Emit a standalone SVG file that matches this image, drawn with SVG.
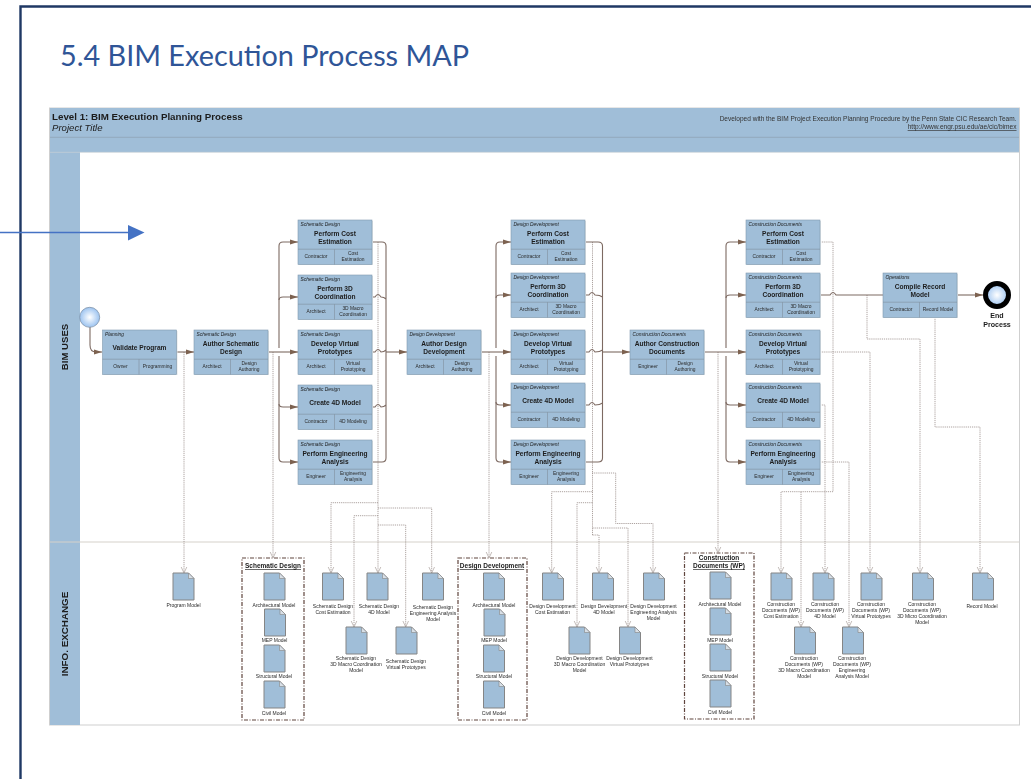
<svg xmlns="http://www.w3.org/2000/svg" width="1031" height="779" viewBox="0 0 1031 779">
<style>
text{font-family:"Liberation Sans",Arial,sans-serif;fill:#1c1c1c}
.ph{font-size:4.9px;font-style:italic}
.t{font-size:6.6px;font-weight:bold;text-anchor:middle}
.c{font-size:4.9px;text-anchor:middle;fill:#2a2a2a}
.d{font-size:5px;text-anchor:middle;fill:#2a2a2a}
.ct{font-size:6.5px;font-weight:bold;text-anchor:middle;text-decoration:underline}
.flow{fill:none;stroke:#7d6a62;stroke-width:1.1}
.dot{fill:none;stroke:#988c88;stroke-width:.8;stroke-dasharray:1.2 .9}
.cont{fill:#fff;stroke:#5f443d;stroke-width:1.2;stroke-dasharray:4 1.5 1 1.5}
.band{fill:#a0bed8}
</style>
<defs>
<filter id="soft" filterUnits="userSpaceOnUse" x="0" y="0" width="1031" height="779" color-interpolation-filters="sRGB"><feGaussianBlur stdDeviation="0.35"/></filter>
<marker id="ah" markerUnits="userSpaceOnUse" markerWidth="9" markerHeight="6" refX="8" refY="3" orient="auto"><path d="M0 .4L8 3L0 5.6Z" fill="#7d6250"/></marker>
<marker id="vv" markerUnits="userSpaceOnUse" markerWidth="8" markerHeight="8" refX="7" refY="4" orient="auto"><path d="M1 1.2L7 4L1 6.8" fill="none" stroke="#aaa19c" stroke-width=".7"/></marker>
<radialGradient id="sg"><stop offset="0" stop-color="#fff"/><stop offset="1" stop-color="#9cc3f0"/></radialGradient>
<g id="box"><rect x="1" y="1" width="74" height="44" fill="#dfe3e6"/><rect width="74" height="44.5" fill="#a0bed8" stroke="#8199ae" stroke-width=".6"/><path d="M0 29.2H74M36.5 29.2V44.5" fill="none" stroke="#7f8f9e" stroke-width=".6"/></g>
<g id="doc"><path d="M0 0H15.5L21 5.5V27H0Z" fill="#a0bed8" stroke="#858585" stroke-width="1"/><path d="M15.5 0V5.5H21Z" fill="#d8dfe6" stroke="#858585" stroke-width=".6"/></g>
</defs>
<rect width="1031" height="779" fill="#fff"/>
<path d="M20.5 779V6.5H1031" fill="none" stroke="#1f3864" stroke-width="2.4"/>
<text x="60" y="66" style="font-family:Lato,'Liberation Sans',sans-serif;font-size:28.8px;fill:#2f5597">5.4 BIM Execution Process MAP</text>

<g id="diagram" filter="url(#soft)">
<g id="frame">
<rect x="49.5" y="108" width="970" height="617" fill="#fff" stroke="#cfcfcf" stroke-width="1"/>
<rect class="band" x="50" y="108" width="969" height="44"/>
<rect class="band" x="50" y="152" width="30" height="573"/>
<path d="M50 137.3H1019" stroke="#8fa3b5" stroke-width=".8"/>
<path d="M50 152.3H1019" stroke="#c4ced6" stroke-width=".8"/>
<path d="M50 542H1019" stroke="#d5d1ca" stroke-width="1"/>
<text x="52" y="119.500" style="font-size:9.75px;font-weight:bold">Level 1: BIM Execution Planning Process</text>
<text x="52" y="131" style="font-size:9.6px;font-style:italic">Project Title</text>
<text x="1016.500" y="121" style="font-size:6.54px;text-anchor:end;fill:#333">Developed with the BIM Project Execution Planning Procedure by the Penn State CIC Research Team.</text>
<text x="1016.500" y="129" style="font-size:6.6px;text-anchor:end;fill:#333;text-decoration:underline">http://www.engr.psu.edu/ae/cic/bimex</text>
<text transform="translate(67.500 347) rotate(-90)" style="font-size:9.6px;font-weight:bold;text-anchor:middle">BIM USES</text>
<text transform="translate(67.500 634) rotate(-90)" style="font-size:9.8px;font-weight:bold;text-anchor:middle">INFO. EXCHANGE</text>
</g>

<g id="container-sd"><rect class="cont" x="242" y="558" width="62" height="162"/><text class="ct" x="273" y="568">Schematic Design</text></g>
<g id="container-dd"><rect class="cont" x="458" y="558" width="69" height="162"/><text class="ct" x="492" y="568">Design Development</text></g>
<g id="container-cd"><rect class="cont" x="684.500" y="553" width="69.500" height="166"/><text class="ct" x="719" y="560">Construction</text><text class="ct" x="719" y="568">Documents (WP)</text></g>

<g id="connectors">
<path class="dot" marker-end="url(#vv)" d="M184 352V573"/>
<path class="dot" marker-end="url(#vv)" d="M273 352V558"/>
<path class="dot" marker-end="url(#vv)" d="M489 352V558"/>
<path class="dot" marker-end="url(#vv)" d="M718 352V553"/>
<path class="dot" marker-end="url(#vv)" d="M378 242V573"/>
<path class="dot" marker-end="url(#vv)" d="M378 502.700H331V573"/>
<path class="dot" marker-end="url(#vv)" d="M378 508H431.700V573"/>
<path class="dot" marker-end="url(#vv)" d="M378 515.700H354V627"/>
<path class="dot" marker-end="url(#vv)" d="M378 525H405.700V627"/>
<path class="dot" d="M592.500 242V535"/>
<path class="dot" marker-end="url(#vv)" d="M592.500 491.700H551.700V573"/>
<path class="dot" marker-end="url(#vv)" d="M592.500 502.700H577V627"/>
<path class="dot" marker-end="url(#vv)" d="M592.500 535H599V573"/>
<path class="dot" marker-end="url(#vv)" d="M592.500 528H628V627"/>
<path class="dot" marker-end="url(#vv)" d="M592 473H615.700V523.500H653V573"/>
<path class="dot" marker-end="url(#vv)" d="M820 242H833V491.700H781V573"/>
<path class="dot" marker-end="url(#vv)" d="M801 491.700V627"/>
<path class="dot" marker-end="url(#vv)" d="M820 405H825V573"/>
<path class="dot" marker-end="url(#vv)" d="M820 352H870V573"/>
<path class="dot" marker-end="url(#vv)" d="M820 462H849V627"/>
<path class="dot" marker-end="url(#vv)" d="M867 295V339H920V573"/>
<path class="dot" marker-end="url(#vv)" d="M935 317V427H980V573"/>
<path class="flow" d="M90 327V345Q90 352 96 352H102" marker-end="url(#ah)"/>
<path class="flow" d="M176 352H194" marker-end="url(#ah)"/>
<path class="flow" d="M268 352H298" marker-end="url(#ah)"/>
<path class="flow" d="M279 348V246Q279 242 283 242H298" marker-end="url(#ah)"/>
<path class="flow" d="M279 300Q279 297 283 297H298" marker-end="url(#ah)"/>
<path class="flow" d="M279 356V458Q279 462 283 462H298" marker-end="url(#ah)"/>
<path class="flow" d="M279 404Q279 407 283 407H298" marker-end="url(#ah)"/>
<path class="flow" d="M372 242H382Q386 242 386 246V458Q386 462 382 462H372M372 297H375Q378 292 381 297Q384 297 386 299M372 352H375Q378 347 381 352Q384 352 386 350M372 407H375Q378 402 381 407Q384 407 386 405"/>
<path class="flow" d="M386 352H407" marker-end="url(#ah)"/>
<path class="flow" d="M481 352H511" marker-end="url(#ah)"/>
<path class="flow" d="M496 348V246Q496 242 500 242H511" marker-end="url(#ah)"/>
<path class="flow" d="M496 298Q496 295 500 295H511" marker-end="url(#ah)"/>
<path class="flow" d="M496 356V458Q496 462 500 462H511" marker-end="url(#ah)"/>
<path class="flow" d="M496 402Q496 405 500 405H511" marker-end="url(#ah)"/>
<path class="flow" d="M585 242H598Q602.500 242 602.500 246V458Q602.500 462 598 462H585M585 295H589Q592 290 595 295Q600 295 602.500 297M585 352H589Q592 347 595 352Q600 352 602.500 350M585 405H589Q592 400 595 405Q600 405 602.500 403"/>
<path class="flow" d="M602.500 352H630" marker-end="url(#ah)"/>
<path class="flow" d="M704 352H746" marker-end="url(#ah)"/>
<path class="flow" d="M726 348V246Q726 242 730 242H746" marker-end="url(#ah)"/>
<path class="flow" d="M726 298Q726 295 730 295H746" marker-end="url(#ah)"/>
<path class="flow" d="M726 356V458Q726 462 730 462H746" marker-end="url(#ah)"/>
<path class="flow" d="M726 402Q726 405 730 405H746" marker-end="url(#ah)"/>
<path class="flow" d="M820 295H830Q833 290 836 295H883"/>
<path class="flow" d="M957 295H983" marker-end="url(#ah)"/>
</g>

<g id="start"><circle cx="89.700" cy="317.300" r="10" fill="url(#sg)" stroke="#7d92a8" stroke-width=".8"/></g>
<g id="end"><circle cx="997" cy="295" r="11.500" fill="url(#sg)" stroke="#000" stroke-width="5"/><text x="997" y="318" style="font-size:7.1px;font-weight:bold;text-anchor:middle">End</text><text x="997" y="327" style="font-size:7.1px;font-weight:bold;text-anchor:middle">Process</text></g>

<g id="validate-program" transform="translate(102.500 330)"><use href="#box"/><text class="ph" x="2.500" y="6.300">Planning</text><text class="t" x="37" y="19.500">Validate Program</text><text class="c" x="18" y="38.300">Owner</text><text class="c" x="55" y="38.300">Programming</text></g>
<g id="author-sd" transform="translate(194 330)"><use href="#box"/><text class="ph" x="2.500" y="6.300">Schematic Design</text><text class="t" x="37" y="15.500">Author Schematic</text><text class="t" x="37" y="23.500">Design</text><text class="c" x="18" y="38.300">Architect</text><text class="c" x="55" y="35.200">Design</text><text class="c" x="55" y="41">Authoring</text></g>

<g id="sd-cost" transform="translate(298 220)"><use href="#box"/><text class="ph" x="2.500" y="6.300">Schematic Design</text><text class="t" x="37" y="15.500">Perform Cost</text><text class="t" x="37" y="23.500">Estimation</text><text class="c" x="18" y="38.300">Contractor</text><text class="c" x="55" y="35.200">Cost</text><text class="c" x="55" y="41">Estimation</text></g>
<g id="sd-3d" transform="translate(298 275)"><use href="#box"/><text class="ph" x="2.500" y="6.300">Schematic Design</text><text class="t" x="37" y="15.500">Perform 3D</text><text class="t" x="37" y="23.500">Coordination</text><text class="c" x="18" y="38.300">Architect</text><text class="c" x="55" y="35.200">3D Macro</text><text class="c" x="55" y="41">Coordination</text></g>
<g id="sd-virtual" transform="translate(298 330)"><use href="#box"/><text class="ph" x="2.500" y="6.300">Schematic Design</text><text class="t" x="37" y="15.500">Develop Virtual</text><text class="t" x="37" y="23.500">Prototypes</text><text class="c" x="18" y="38.300">Architect</text><text class="c" x="55" y="35.200">Virtual</text><text class="c" x="55" y="41">Prototyping</text></g>
<g id="sd-4d" transform="translate(298 385)"><use href="#box"/><text class="ph" x="2.500" y="6.300">Schematic Design</text><text class="t" x="37" y="19.500">Create 4D Model</text><text class="c" x="18" y="38.300">Contractor</text><text class="c" x="55" y="38.300">4D Modeling</text></g>
<g id="sd-eng" transform="translate(298 440)"><use href="#box"/><text class="ph" x="2.500" y="6.300">Schematic Design</text><text class="t" x="37" y="15.500">Perform Engineering</text><text class="t" x="37" y="23.500">Analysis</text><text class="c" x="18" y="38.300">Engineer</text><text class="c" x="55" y="35.200">Engineering</text><text class="c" x="55" y="41">Analysis</text></g>

<g id="author-dd" transform="translate(407 330)"><use href="#box"/><text class="ph" x="2.500" y="6.300">Design Development</text><text class="t" x="37" y="15.500">Author Design</text><text class="t" x="37" y="23.500">Development</text><text class="c" x="18" y="38.300">Architect</text><text class="c" x="55" y="35.200">Design</text><text class="c" x="55" y="41">Authoring</text></g>

<g id="dd-cost" transform="translate(511 220)"><use href="#box"/><text class="ph" x="2.500" y="6.300">Design Development</text><text class="t" x="37" y="15.500">Perform Cost</text><text class="t" x="37" y="23.500">Estimation</text><text class="c" x="18" y="38.300">Contractor</text><text class="c" x="55" y="35.200">Cost</text><text class="c" x="55" y="41">Estimation</text></g>
<g id="dd-3d" transform="translate(511 273)"><use href="#box"/><text class="ph" x="2.500" y="6.300">Design Development</text><text class="t" x="37" y="15.500">Perform 3D</text><text class="t" x="37" y="23.500">Coordination</text><text class="c" x="18" y="38.300">Architect</text><text class="c" x="55" y="35.200">3D Macro</text><text class="c" x="55" y="41">Coordination</text></g>
<g id="dd-virtual" transform="translate(511 330)"><use href="#box"/><text class="ph" x="2.500" y="6.300">Design Development</text><text class="t" x="37" y="15.500">Develop Virtual</text><text class="t" x="37" y="23.500">Prototypes</text><text class="c" x="18" y="38.300">Architect</text><text class="c" x="55" y="35.200">Virtual</text><text class="c" x="55" y="41">Prototyping</text></g>
<g id="dd-4d" transform="translate(511 383)"><use href="#box"/><text class="ph" x="2.500" y="6.300">Design Development</text><text class="t" x="37" y="19.500">Create 4D Model</text><text class="c" x="18" y="38.300">Contractor</text><text class="c" x="55" y="38.300">4D Modeling</text></g>
<g id="dd-eng" transform="translate(511 440)"><use href="#box"/><text class="ph" x="2.500" y="6.300">Design Development</text><text class="t" x="37" y="15.500">Perform Engineering</text><text class="t" x="37" y="23.500">Analysis</text><text class="c" x="18" y="38.300">Engineer</text><text class="c" x="55" y="35.200">Engineering</text><text class="c" x="55" y="41">Analysis</text></g>

<g id="author-cd" transform="translate(630 330)"><use href="#box"/><text class="ph" x="2.500" y="6.300">Construction Documents</text><text class="t" x="37" y="15.500">Author Construction</text><text class="t" x="37" y="23.500">Documents</text><text class="c" x="18" y="38.300">Engineer</text><text class="c" x="55" y="35.200">Design</text><text class="c" x="55" y="41">Authoring</text></g>

<g id="cd-cost" transform="translate(746 220)"><use href="#box"/><text class="ph" x="2.500" y="6.300">Construction Documents</text><text class="t" x="37" y="15.500">Perform Cost</text><text class="t" x="37" y="23.500">Estimation</text><text class="c" x="18" y="38.300">Contractor</text><text class="c" x="55" y="35.200">Cost</text><text class="c" x="55" y="41">Estimation</text></g>
<g id="cd-3d" transform="translate(746 273)"><use href="#box"/><text class="ph" x="2.500" y="6.300">Construction Documents</text><text class="t" x="37" y="15.500">Perform 3D</text><text class="t" x="37" y="23.500">Coordination</text><text class="c" x="18" y="38.300">Architect</text><text class="c" x="55" y="35.200">3D Macro</text><text class="c" x="55" y="41">Coordination</text></g>
<g id="cd-virtual" transform="translate(746 330)"><use href="#box"/><text class="ph" x="2.500" y="6.300">Construction Documents</text><text class="t" x="37" y="15.500">Develop Virtual</text><text class="t" x="37" y="23.500">Prototypes</text><text class="c" x="18" y="38.300">Architect</text><text class="c" x="55" y="35.200">Virtual</text><text class="c" x="55" y="41">Prototyping</text></g>
<g id="cd-4d" transform="translate(746 383)"><use href="#box"/><text class="ph" x="2.500" y="6.300">Construction Documents</text><text class="t" x="37" y="19.500">Create 4D Model</text><text class="c" x="18" y="38.300">Contractor</text><text class="c" x="55" y="38.300">4D Modeling</text></g>
<g id="cd-eng" transform="translate(746 440)"><use href="#box"/><text class="ph" x="2.500" y="6.300">Construction Documents</text><text class="t" x="37" y="15.500">Perform Engineering</text><text class="t" x="37" y="23.500">Analysis</text><text class="c" x="18" y="38.300">Engineer</text><text class="c" x="55" y="35.200">Engineering</text><text class="c" x="55" y="41">Analysis</text></g>

<g id="compile-record" transform="translate(883 273)"><use href="#box"/><text class="ph" x="2.500" y="6.300">Operations</text><text class="t" x="37" y="15.500">Compile Record</text><text class="t" x="37" y="23.500">Model</text><text class="c" x="18" y="38.300">Contractor</text><text class="c" x="55" y="38.300">Record Model</text></g>

<g id="doc-program" transform="translate(173 573)"><use href="#doc"/><text class="d" x="10.500" y="34">Program Model</text></g>

<g id="doc-sd-arch" transform="translate(264 573)"><use href="#doc"/><text class="d" x="10" y="34">Architectural Model</text></g>
<g id="doc-sd-mep" transform="translate(264.500 609)"><use href="#doc"/><text class="d" x="10" y="33">MEP Model</text></g>
<g id="doc-sd-str" transform="translate(264 645)"><use href="#doc"/><text class="d" x="10" y="33">Structural Model</text></g>
<g id="doc-sd-civ" transform="translate(264 681)"><use href="#doc"/><text class="d" x="10" y="34">Civil Model</text></g>
<g id="doc-sd-cost" transform="translate(322.500 573)"><use href="#doc"/><text class="d" x="10.500" y="34.500">Schematic Design</text><text class="d" x="10.500" y="40.500">Cost Estimation</text></g>
<g id="doc-sd-4d" transform="translate(367 573)"><use href="#doc"/><text class="d" x="12" y="34.500">Schematic Design</text><text class="d" x="12" y="40.500">4D Model</text></g>
<g id="doc-sd-eng" transform="translate(422.500 573)"><use href="#doc"/><text class="d" x="10.500" y="36">Schematic Design</text><text class="d" x="10.500" y="42">Engineering Analysis</text><text class="d" x="10.500" y="48">Model</text></g>
<g id="doc-sd-3d" transform="translate(346 627)"><use href="#doc"/><text class="d" x="10" y="32.700">Schematic Design</text><text class="d" x="10" y="38.700">3D Macro Coordination</text><text class="d" x="10" y="44.500">Model</text></g>
<g id="doc-sd-virtual" transform="translate(396 627)"><use href="#doc"/><text class="d" x="10" y="35.800">Schematic Design</text><text class="d" x="10" y="41.700">Virtual Prototypes</text></g>

<g id="doc-dd-arch" transform="translate(483.500 573)"><use href="#doc"/><text class="d" x="10.500" y="34">Architectural Model</text></g>
<g id="doc-dd-mep" transform="translate(484 609)"><use href="#doc"/><text class="d" x="10" y="33">MEP Model</text></g>
<g id="doc-dd-str" transform="translate(483.500 645)"><use href="#doc"/><text class="d" x="10.500" y="33">Structural Model</text></g>
<g id="doc-dd-civ" transform="translate(483.500 681)"><use href="#doc"/><text class="d" x="10.500" y="34">Civil Model</text></g>
<g id="doc-dd-cost" transform="translate(542.500 573)"><use href="#doc"/><text class="d" x="10" y="34.500">Design Development</text><text class="d" x="10" y="40.500">Cost Estimation</text></g>
<g id="doc-dd-4d" transform="translate(592.500 573)"><use href="#doc"/><text class="d" x="11.500" y="34.500">Design Development</text><text class="d" x="11.500" y="40.500">4D Model</text></g>
<g id="doc-dd-eng" transform="translate(643.500 573)"><use href="#doc"/><text class="d" x="10" y="34.500">Design Development</text><text class="d" x="10" y="40.500">Engineering Analysis</text><text class="d" x="10" y="46.500">Model</text></g>
<g id="doc-dd-3d" transform="translate(569 627)"><use href="#doc"/><text class="d" x="10.500" y="32.700">Design Development</text><text class="d" x="10.500" y="38.700">3D Macro Coordination</text><text class="d" x="10.500" y="44.500">Model</text></g>
<g id="doc-dd-virtual" transform="translate(619.500 627)"><use href="#doc"/><text class="d" x="10" y="32.700">Design Development</text><text class="d" x="10" y="38.700">Virtual Prototypes</text></g>

<g id="doc-cd-arch" transform="translate(710 572)"><use href="#doc"/><text class="d" x="10" y="34">Architectural Model</text></g>
<g id="doc-cd-mep" transform="translate(710 608)"><use href="#doc"/><text class="d" x="10" y="33.500">MEP Model</text></g>
<g id="doc-cd-str" transform="translate(710 644)"><use href="#doc"/><text class="d" x="10" y="33.500">Structural Model</text></g>
<g id="doc-cd-civ" transform="translate(710 680)"><use href="#doc"/><text class="d" x="10" y="33.500">Civil Model</text></g>
<g id="doc-cd-cost" transform="translate(771 573)"><use href="#doc"/><text class="d" x="10" y="32.800">Construction</text><text class="d" x="10" y="38.800">Documents (WP)</text><text class="d" x="10" y="44.800">Cost Estimation</text></g>
<g id="doc-cd-4d" transform="translate(813 573)"><use href="#doc"/><text class="d" x="12" y="32.800">Construction</text><text class="d" x="12" y="38.800">Documents (WP)</text><text class="d" x="12" y="44.800">4D Model</text></g>
<g id="doc-cd-virtual" transform="translate(861 573)"><use href="#doc"/><text class="d" x="10" y="32.800">Construction</text><text class="d" x="10" y="38.800">Documents (WP)</text><text class="d" x="10" y="44.800">Virtual Prototypes</text></g>
<g id="doc-cd-micro" transform="translate(912.500 573)"><use href="#doc"/><text class="d" x="9.500" y="32.800">Construction</text><text class="d" x="9.500" y="38.800">Documents (WP)</text><text class="d" x="9.500" y="44.800">3D Micro Coordination</text><text class="d" x="9.500" y="50.500">Model</text></g>
<g id="doc-record" transform="translate(972.500 573)"><use href="#doc"/><text class="d" x="9.500" y="34.500">Record Model</text></g>
<g id="doc-cd-3d" transform="translate(794.500 627)"><use href="#doc"/><text class="d" x="9.500" y="32.800">Construction</text><text class="d" x="9.500" y="38.800">Documents (WP)</text><text class="d" x="9.500" y="44.800">3D Macro Coordination</text><text class="d" x="9.500" y="50.500">Model</text></g>
<g id="doc-cd-eng" transform="translate(842.500 627)"><use href="#doc"/><text class="d" x="9.500" y="32.800">Construction</text><text class="d" x="9.500" y="38.800">Documents (WP)</text><text class="d" x="9.500" y="44.800">Engineering</text><text class="d" x="9.500" y="50.500">Analysis Model</text></g>
</g>

<g id="callout"><path d="M0 232.500H130" stroke="#4472c4" stroke-width="1.6"/><path d="M128 225V240.500L144.500 232.500Z" fill="#4472c4"/></g>
</svg>
